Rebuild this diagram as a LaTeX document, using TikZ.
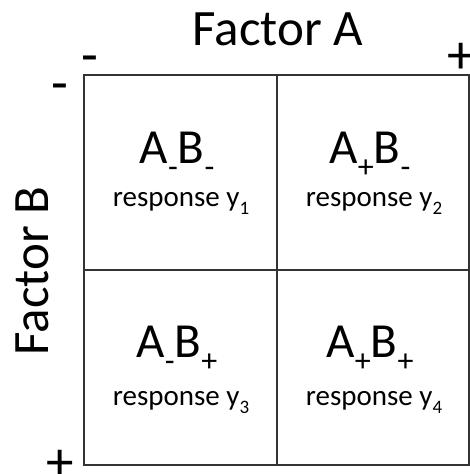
\documentclass[tikz,border=0pt]{standalone}
\usepackage{fontspec}
\setmainfont{Carlito}
\newcommand{\lowsub}[1]{\raisebox{-14pt}{\fontsize{32}{34}\selectfont #1}}
\newcommand{\ysub}[1]{\raisebox{-8pt}{\fontsize{19}{21}\selectfont #1}}
\tikzset{
  gridline/.style={draw=black!80, line width=1.3pt},
  big/.style={font=\fontsize{51}{60}\selectfont, inner sep=0pt, anchor=base},
  sign/.style={font=\fontsize{55}{60}\selectfont, inner sep=0pt, anchor=base},
  cellname/.style={font=\fontsize{49}{52}\selectfont, inner sep=0pt, anchor=base},
  resp/.style={font=\fontsize{29}{32}\selectfont, inner sep=0pt, anchor=base},
}
\begin{document}
\begin{tikzpicture}[x=1pt,y=-1pt]
\useasboundingbox (0,0) rectangle (470,474);
% grid corners
\coordinate (tl) at (84,75);
\coordinate (br) at (469,465);
\coordinate (tm) at (277,75);
\coordinate (bm) at (277,465);
\coordinate (lm) at (84,270);
\coordinate (rm) at (469,270);
\draw[gridline] (tl) rectangle (br);
\draw[gridline] (tm) -- (bm);
\draw[gridline] (lm) -- (rm);
% axis titles
\node[big] (fa) at (278,45) {Factor A};
\node[big, rotate=90] (fb) at (48,271) {Factor B};
% signs
\node[sign] (am) at (90,73) {-};
\node[sign] (ap) at (461,73) {+};
\node[sign] (bmn) at (60,101) {-};
\node[sign] (bp) at (60,480) {+};
% cells
\node[cellname] (n11) at (177,163) {A\lowsub{-}B\lowsub{-}};
\node[resp] (r11) at (181,206) {response y\ysub{1}};
\node[cellname] (n12) at (370,163) {A\lowsub{+}B\lowsub{-}};
\node[resp] (r12) at (374,206) {response y\ysub{2}};
\node[cellname] (n21) at (177,357) {A\lowsub{-}B\lowsub{+}};
\node[resp] (r21) at (181,405) {response y\ysub{3}};
\node[cellname] (n22) at (370,357) {A\lowsub{+}B\lowsub{+}};
\node[resp] (r22) at (374,405) {response y\ysub{4}};
\end{tikzpicture}
\end{document}
